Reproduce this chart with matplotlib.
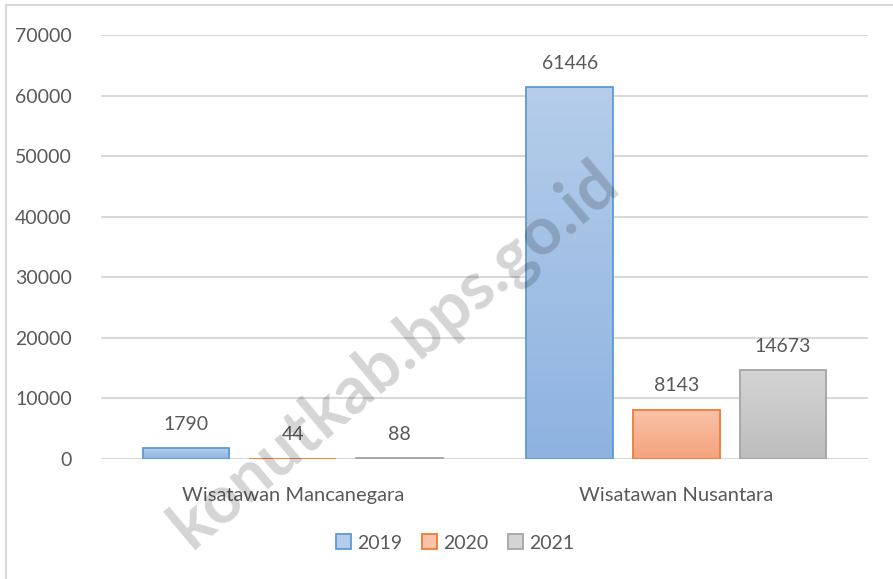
import numpy as np
import matplotlib
matplotlib.use("Agg")
import matplotlib.pyplot as plt
from matplotlib.colors import LinearSegmentedColormap
from matplotlib.patches import Patch, Rectangle

# ── Data ──────────────────────────────────────────────────────────────────────
categories = ["Wisatawan Mancanegara", "Wisatawan Nusantara"]
years = ["2019", "2020", "2021"]
values = {
    "2019": [1790, 61446],
    "2020": [44, 8143],
    "2021": [88, 14673],
}
yticks = [0, 10000, 20000, 30000, 40000, 50000, 60000, 70000]

# (top colour, bottom colour, edge colour)
styles = {
    "2019": ("#b5cdea", "#8eb3e0", "#5b9bd5"),
    "2020": ("#f8c3a9", "#f4a27c", "#ed7d31"),
    "2021": ("#d4d4d4", "#bdbdbd", "#a5a5a5"),
}

TXT = "#595959"
plt.rcParams["font.family"] = ["Lato", "DejaVu Sans"]

W, H = 893, 579
fig = plt.figure(figsize=(W / 100, H / 100), dpi=100)
ax = fig.add_axes([101 / W, 1 - 459 / H, (868 - 101) / W, (459 - 35) / H])

# chart border
fig.patches.append(Rectangle((6 / W, -0.01), 1.0, 1 - 5 / H + 0.01,
                             transform=fig.transFigure, fill=False,
                             edgecolor="#d9d9d9", lw=1.5))

x = np.arange(len(categories))
width = 0.226
offsets = [-0.278, 0.0, 0.278]

for yr, off in zip(years, offsets):
    top, bottom, edge = styles[yr]
    cmap = LinearSegmentedColormap.from_list(yr, [bottom, top])
    bars = ax.bar(x + off, values[yr], width, facecolor="none",
                  edgecolor=edge, linewidth=1.3, zorder=3)
    for b, v in zip(bars, values[yr]):
        x0, y0 = b.get_x(), b.get_y()
        grad = np.linspace(0, 1, 100).reshape(-1, 1)
        im = ax.imshow(grad, cmap=cmap, origin="lower", aspect="auto",
                       extent=(x0, x0 + b.get_width(), y0, y0 + b.get_height()),
                       zorder=2)
        im.set_clip_path(b)
        ax.annotate(f"{v}", (b.get_x() + b.get_width() / 2, b.get_height()),
                    xytext=(0, 11), textcoords="offset points",
                    ha="center", va="bottom", fontsize=14, color=TXT)

ax.set_xlim(-0.5, 1.5)
ax.set_ylim(0, 70000)
ax.set_yticks(yticks)
ax.set_yticklabels([str(t) for t in yticks])
ax.set_xticks(x)
ax.set_xticklabels(categories)
ax.tick_params(axis="y", length=0, pad=21, labelsize=14, labelcolor=TXT)
ax.tick_params(axis="x", length=0, pad=20, labelsize=14.5, labelcolor=TXT)
ax.grid(axis="y", color="#d9d9d9", lw=1.5, zorder=0)
ax.set_axisbelow(True)
for s in ax.spines.values():
    s.set_visible(False)

handles = [Patch(facecolor=styles[yr][0], edgecolor=styles[yr][2], lw=1.3)
           for yr in years]
fig.legend(handles, years, loc="center", bbox_to_anchor=(455 / W, 1 - 543 / H),
           ncol=3, frameon=False, fontsize=14, handlelength=0.8,
           handleheight=0.8, handletextpad=0.3, columnspacing=1.0,
           labelcolor=TXT)

# watermark
fig.text(395 / W, 1 - 355 / H, "konutkab.bps.go.id", rotation=40,
         ha="center", va="center", fontsize=48, fontweight="bold",
         color="black", alpha=0.17, zorder=10)

fig.savefig("out.png", dpi=100)
